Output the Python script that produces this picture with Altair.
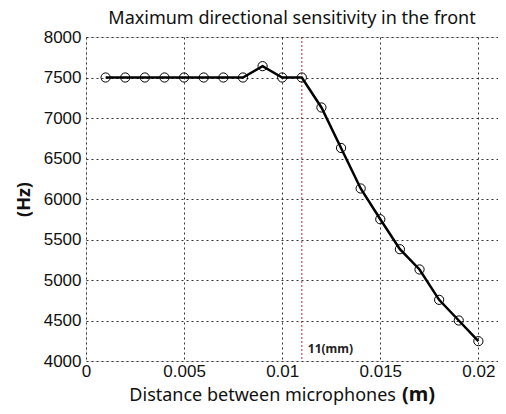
import altair as alt
import pandas as pd

distance = [0.001, 0.002, 0.003, 0.004, 0.005, 0.006, 0.007, 0.008, 0.009, 0.010,
            0.011, 0.012, 0.013, 0.014, 0.015, 0.016, 0.017, 0.018, 0.019, 0.020]
freq = [7500, 7500, 7500, 7500, 7500, 7500, 7500, 7500, 7640, 7500,
        7500, 7130, 6630, 6130, 5750, 5380, 5130, 4755, 4500, 4245]
x_ticks = [0, 0.005, 0.01, 0.015, 0.02]
y_ticks = [4000, 4500, 5000, 5500, 6000, 6500, 7000, 7500, 8000]
marker_x = 0.011
marker_label = "11(mm)"
title_text = "Maximum directional sensitivity in the front"
x_title_main = "Distance between microphones"
x_title_unit = "(m)"
y_title = "(Hz)"

W, H = 412, 324
df = pd.DataFrame({"d": distance, "f": freq})

xs = alt.Scale(domain=[0, 0.021], nice=False, zero=False)
ys = alt.Scale(domain=[4000, 8000], nice=False, zero=False)

xax = alt.Axis(values=x_ticks, format="~g", title=None, grid=True, ticks=False,
               domain=False, labelFont="Liberation Sans", labelFontSize=17,
               labelColor="#111", labelPadding=2, gridColor="#333",
               gridDash=[2, 3], gridWidth=1, labelFlush=False)
yax = alt.Axis(values=y_ticks, format="d", title=y_title, grid=True, ticks=False,
               domain=False, labelFont="Liberation Sans", labelFontSize=17,
               labelColor="#111", labelPadding=5, gridColor="#333",
               gridDash=[2, 3], gridWidth=1, titleFont="Noto Sans",
               titleFontSize=18, titleFontWeight="bold", titleColor="#111",
               titlePadding=10)

base = alt.Chart(df)

line = base.mark_line(color="black", strokeWidth=2.5).encode(
    x=alt.X("d:Q", scale=xs, axis=xax),
    y=alt.Y("f:Q", scale=ys, axis=yax),
)
pts = base.mark_point(shape="circle", filled=False, color="black", size=85,
                      strokeWidth=1, opacity=1).encode(
    x=alt.X("d:Q", scale=xs),
    y=alt.Y("f:Q", scale=ys),
)

mk = pd.DataFrame({"d": [marker_x], "lab": [marker_label]})
rule = alt.Chart(mk).mark_rule(color="#b03030", strokeDash=[2, 2], strokeWidth=1).encode(
    x=alt.X("d:Q", scale=xs)
)
mtext = alt.Chart(mk).mark_text(align="left", baseline="middle", dx=6, fontSize=12,
                                fontWeight="bold", font="Noto Sans", color="#222").encode(
    x=alt.X("d:Q", scale=xs), y=alt.value(312), text="lab:N"
)

tl = pd.DataFrame({"a": [x_title_main], "b": [x_title_unit]})
xt1 = alt.Chart(tl).mark_text(align="right", baseline="middle", fontSize=18,
                              font="Noto Sans", color="#111").encode(
    x=alt.value(310), y=alt.value(359), text="a:N")
xt2 = alt.Chart(tl).mark_text(align="left", baseline="middle", fontSize=20,
                              fontWeight="bold", font="Noto Sans", color="#111").encode(
    x=alt.value(316), y=alt.value(358), text="b:N")

chart = alt.layer(rule, line, pts, mtext, xt1, xt2).properties(
    width=W, height=H,
    title=alt.TitleParams(title_text, font="Noto Sans", fontSize=18,
                          fontWeight="normal", color="#111", offset=0),
    autosize=alt.AutoSizeParams(type="none"),
    padding={"left": 78, "top": 29, "right": 0, "bottom": 45},
).configure_view(stroke="black", strokeWidth=1).configure(background="white")

chart.save("out.html", embed_options={"renderer": "svg", "actions": False})
